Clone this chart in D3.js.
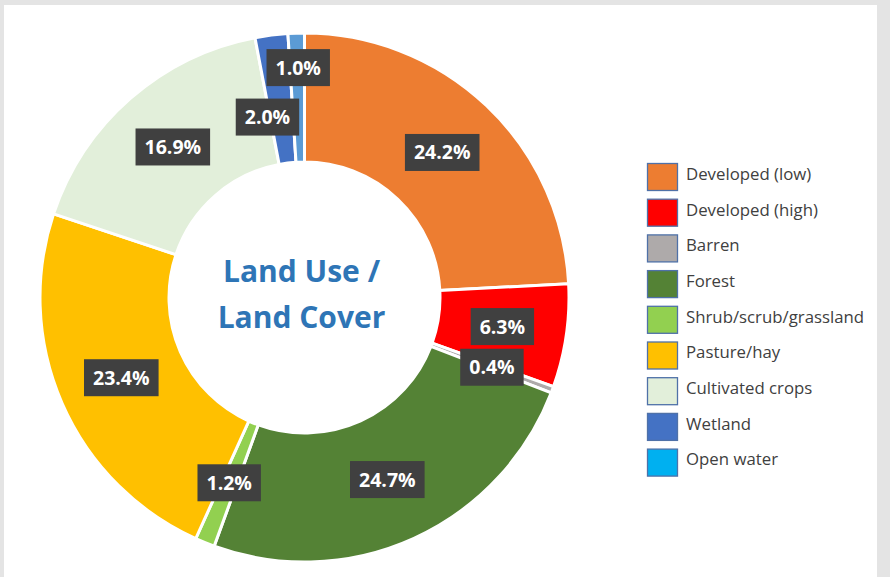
<!DOCTYPE html>
<html>
<head>
<meta charset="utf-8">
<script src="https://cdn.jsdelivr.net/npm/d3@7"></script>
<style>
  html, body { margin: 0; padding: 0; background: #e4e4e4; }
  svg { display: block; }
</style>
</head>
<body>
<svg width="890" height="577"></svg>
<script>
// land cover categories and shares (%)
var categories = ["Developed (low)", "Developed (high)", "Barren", "Forest",
  "Shrub/scrub/grassland", "Pasture/hay", "Cultivated crops", "Wetland", "Open water"];
var values = [24.2, 6.3, 0.4, 24.7, 1.2, 23.4, 16.9, 2.0, 1.0];
var sliceColors = ["#ED7D31", "#FF0000", "#AEAAAA", "#548235", "#92D050",
  "#FFC000", "#E2EFDA", "#4472C4", "#5B9BD5"];
var legendColors = ["#ED7D31", "#FF0000", "#AEAAAA", "#548235", "#92D050",
  "#FFC000", "#E2EFDA", "#4472C4", "#00B0F0"];
var titleLines = ["Land Use /", "Land Cover"];

// label nudges (pixels) where the small slices would collide
var nudge = { "Wetland": [-12, 18], "Open water": [0, -30] };

var svg = d3.select("svg"),
    cx = 304.5, cy = 297.5,
    outerR = 264.5, innerR = 135.5;

// white panel
svg.append("rect")
  .attr("x", 4).attr("y", 5)
  .attr("width", 873).attr("height", 572)
  .attr("fill", "#fff");

var pie = d3.pie().sort(null).value(function(d) { return d.value; });
var arc = d3.arc().innerRadius(innerR).outerRadius(outerR);

var data = categories.map(function(c, i) { return { name: c, value: values[i], i: i }; });
var arcs = pie(data);

var g = svg.append("g").attr("transform", "translate(" + cx + "," + cy + ")");

g.selectAll("path")
  .data(arcs)
  .enter().append("path")
    .attr("d", arc)
    .attr("fill", function(d) { return sliceColors[d.data.i]; })
    .attr("stroke", "#fff")
    .attr("stroke-width", 3)
    .attr("stroke-linejoin", "miter");

// centre title
g.selectAll("text.title")
  .data(titleLines)
  .enter().append("text")
    .attr("class", "title")
    .attr("x", -3)
    .attr("y", function(d, i) { return -16 + i * 46; })
    .attr("text-anchor", "middle")
    .attr("font-family", "'Open Sans', 'Noto Sans', sans-serif")
    .attr("font-weight", "bold")
    .attr("font-size", 30)
    .attr("fill", "#2E75B6")
    .text(function(d) { return d; });

// data labels
var labelArc = d3.arc().innerRadius((innerR + outerR) / 2).outerRadius((innerR + outerR) / 2);
var labels = g.selectAll("g.lbl")
  .data(arcs)
  .enter().append("g")
    .attr("class", "lbl")
    .attr("transform", function(d) {
      var c = labelArc.centroid(d), n = nudge[d.data.name] || [0, 0];
      return "translate(" + (c[0] + n[0]) + "," + (c[1] + n[1]) + ")";
    });

labels.append("text")
  .attr("text-anchor", "middle")
  .attr("dy", "0.36em")
  .attr("font-family", "'Open Sans', 'Noto Sans', sans-serif")
  .attr("font-weight", "bold")
  .attr("font-size", 19.5)
  .attr("fill", "#fff")
  .text(function(d) { return d.data.value.toFixed(1) + "%"; });

labels.each(function() {
  var t = d3.select(this).select("text");
  var bb = t.node().getBBox();
  d3.select(this).insert("rect", "text")
    .attr("x", -bb.width / 2 - 9)
    .attr("y", -18.5)
    .attr("width", bb.width + 18)
    .attr("height", 37)
    .attr("fill", "#404040");
});

// legend
var legend = svg.append("g").attr("transform", "translate(647,163)");
var rowH = 35.7;
var items = legend.selectAll("g")
  .data(categories)
  .enter().append("g")
    .attr("transform", function(d, i) { return "translate(0," + i * rowH + ")"; });

items.append("rect")
  .attr("x", 0.5).attr("y", 0.5)
  .attr("width", 30).attr("height", 27)
  .attr("fill", function(d, i) { return legendColors[i]; })
  .attr("stroke", "#4F71A8")
  .attr("stroke-width", 1.3);

items.append("text")
  .attr("x", 39)
  .attr("y", 11)
  .attr("dy", "0.35em")
  .attr("font-family", "'Open Sans', 'Noto Sans', sans-serif")
  .attr("font-size", 16.8)
  .attr("fill", "#404040")
  .text(function(d) { return d; });
</script>
</body>
</html>
